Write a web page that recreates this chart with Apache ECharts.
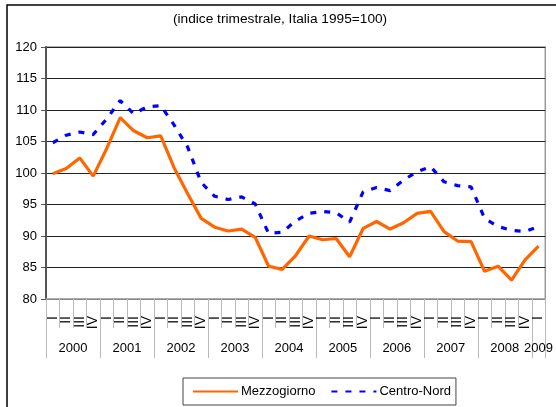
<!DOCTYPE html>
<html>
<head>
<meta charset="utf-8">
<script src="https://cdn.jsdelivr.net/npm/echarts@6/dist/echarts.min.js"></script>
<style>
  html, body { margin: 0; padding: 0; background: #fff; }
  #chart { width: 556px; height: 407px; }
</style>
</head>
<body>
<div id="chart"></div>
<script>
// dati trimestrali 2000 I - 2009 I
var years = ['2000', '2001', '2002', '2003', '2004', '2005', '2006', '2007', '2008', '2009'];
var quarters = ['I', 'II', 'III', 'IV'];
var yTicks = [80, 85, 90, 95, 100, 105, 110, 115, 120];

var mezzogiorno = [99.9, 100.7, 102.4, 99.5, 103.9, 108.8, 106.7, 105.6, 105.9, 100.8, 96.7, 92.8,
    91.4, 90.8, 91.1, 89.8, 85.2, 84.7, 86.9, 90.0, 89.4, 89.6, 86.7, 91.2,
    92.3, 91.1, 92.1, 93.6, 93.9, 90.7, 89.2, 89.1, 84.4, 85.2, 83.0, 86.2, 88.4];
var centroNord = [104.8, 106.0, 106.5, 106.1, 108.6, 111.5, 109.4, 110.5, 110.7, 107.6, 104.1, 98.5,
    96.3, 95.8, 96.2, 95.1, 90.4, 90.6, 92.4, 93.6, 93.9, 93.7, 92.2, 97.0,
    97.7, 97.2, 98.9, 100.2, 101.0, 98.6, 98.0, 97.8, 92.8, 91.5, 90.9, 90.7, 91.5];

// categorie: trimestri per anno (2009 solo I)
var categories = [];
years.forEach(function (y, k) {
    var n = (k === years.length - 1) ? 1 : 4;
    for (var q = 0; q < n; q++) categories.push(quarters[q]);
});

// asse anni: mezzi trimestri, etichetta al centro di ogni anno
var half = [];
for (var j = 0; j <= categories.length * 2; j++) half.push('');
years.forEach(function (y, k) {
    var start = k * 8;
    var len = Math.min(4, categories.length - k * 4) * 2;
    half[start + len / 2] = y;
});

var font = 'Liberation Sans, Arial, sans-serif';
var chart = echarts.init(document.getElementById('chart'));

var option = {
    animation: false,
    backgroundColor: '#fff',
    textStyle: { fontFamily: font },
    title: {
        text: '(indice trimestrale, Italia 1995=100)',
        left: 173,
        top: 12,
        padding: 0,
        textStyle: { fontSize: 13.7, fontWeight: 'normal', color: '#000', fontFamily: font }
    },
    graphic: [{
        type: 'rect',
        shape: { x: 7, y: 5, width: 600, height: 500 },
        style: { fill: null, stroke: '#000', lineWidth: 1.5 },
        silent: true
    }],
    legend: {
        left: 183,
        top: 378,
        padding: [7, 5, 7, 9],
        borderColor: '#444',
        borderWidth: 1,
        itemWidth: 45,
        itemHeight: 12,
        itemGap: 15,
        itemStyle: { opacity: 0 },
        textStyle: { fontSize: 13, color: '#000', fontFamily: font, padding: [0, 0, 0, -2] },
        data: ['Mezzogiorno', 'Centro-Nord']
    },
    grid: {
        left: 46,
        right: 5,
        top: 47,
        bottom: 108,
        show: true,
        borderColor: '#999',
        borderWidth: 1.5
    },
    xAxis: [{
        type: 'category',
        data: categories,
        boundaryGap: true,
        axisLine: { lineStyle: { color: '#aaa', width: 1.5 } },
        axisTick: { show: true, interval: 0, length: 29, lineStyle: { color: '#bbb', width: 1 } },
        axisLabel: { interval: 0, rotate: 90, margin: 17, fontSize: 14, color: '#000', fontFamily: font }
    }, {
        type: 'category',
        data: half,
        boundaryGap: false,
        position: 'bottom',
        axisLine: { show: false },
        axisTick: {
            show: true,
            length: 59,
            interval: function (i) { return i % 8 === 0 || i === half.length - 1; },
            lineStyle: { color: '#bbb', width: 1 }
        },
        axisLabel: {
            interval: function (i, v) { return v !== ''; },
            margin: 43,
            fontSize: 13,
            color: '#000',
            fontFamily: font
        },
        splitLine: { show: false }
    }],
    yAxis: {
        type: 'value',
        min: yTicks[0],
        max: yTicks[yTicks.length - 1],
        interval: 5,
        axisLine: { show: true, lineStyle: { color: '#555', width: 2 } },
        axisTick: { show: true, length: 5, lineStyle: { color: '#555' } },
        axisLabel: { margin: 9, fontSize: 13, color: '#000', fontFamily: font },
        splitLine: { lineStyle: { color: '#222', width: 1 } }
    },
    series: [{
        name: 'Mezzogiorno',
        type: 'line',
        data: mezzogiorno,
        symbol: 'none',
        lineStyle: { color: '#ff6600', width: 3.2 },
        itemStyle: { color: '#ff6600' }
    }, {
        name: 'Centro-Nord',
        type: 'line',
        data: centroNord,
        symbol: 'none',
        lineStyle: { color: '#0000ff', width: 3.2, type: [6, 8] },
        itemStyle: { color: '#0000ff' }
    }]
};
chart.setOption(option);
</script>
</body>
</html>
